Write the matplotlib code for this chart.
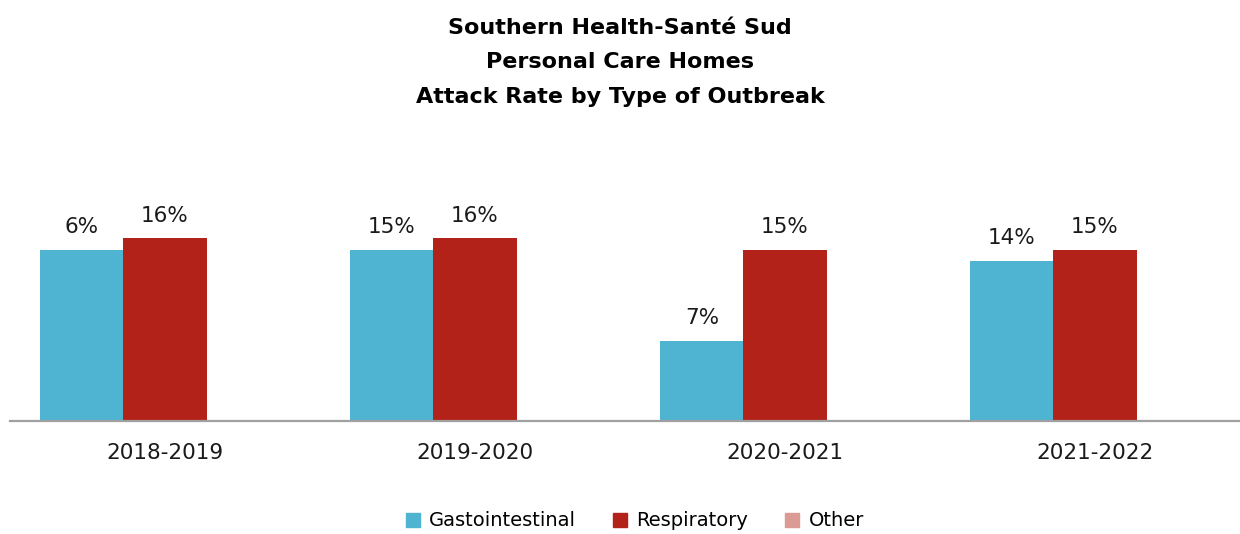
import matplotlib
matplotlib.use("Agg")
import matplotlib.pyplot as plt
import numpy as np
from matplotlib.patches import Patch

categories = ["2018-2019", "2019-2020", "2020-2021", "2021-2022"]
series_names = ["Gastointestinal", "Respiratory", "Other"]
gastro = [15, 15, 7, 14]
gastro_labels = ["6%", "15%", "7%", "14%"]
resp = [16, 16, 15, 15]
resp_labels = ["16%", "16%", "15%", "15%"]
other = [0, 0, 0, 0]
colors = ["#4FB3D2", "#B32218", "#DB9A93"]

plt.rcParams['font.family'] = ['DejaVu Sans']

W, H = 1240, 534
fig = plt.figure(figsize=(W/100, H/100), dpi=100)
px_per = 11.43
ax_h = 231
ax = fig.add_axes([10/W, 113/H, 1230/W, ax_h/H])
ax.set_ylim(0, ax_h/px_per)
ax.set_xlim(-0.5, -0.5 + 1230/310)

x = np.arange(len(categories))
bw = 0.268
b1 = ax.bar(x - bw, gastro, bw, color=colors[0])
b2 = ax.bar(x, resp, bw, color=colors[1])
b3 = ax.bar(x + bw, other, bw, color=colors[2])

for bars, labs in ((b1, gastro_labels), (b2, resp_labels)):
    for b, l in zip(bars, labs):
        ax.annotate(l, (b.get_x() + b.get_width()/2, b.get_height()),
                    xytext=(0, 9), textcoords="offset points",
                    ha="center", va="bottom", fontsize=15.5, color="#1a1a1a")

ax.set_xticks(x)
ax.set_xticklabels(categories, fontsize=15.5, color="#1a1a1a")
ax.tick_params(axis='x', length=0, pad=16)
ax.set_yticks([])
for s in ["top", "right", "left"]:
    ax.spines[s].set_visible(False)
ax.spines["bottom"].set_color("#A0A0A0")
ax.spines["bottom"].set_linewidth(1.6)

for yy, t in ((28, "Southern Health-Santé Sud"), (62, "Personal Care Homes"),
              (97, "Attack Rate by Type of Outbreak")):
    fig.text(0.5, 1 - yy/H, t, ha="center", va="center",
             fontsize=16, fontweight="bold")

handles = [Patch(color=c, label=n) for c, n in zip(colors, series_names)]
fig.legend(handles=handles, loc="center", bbox_to_anchor=(635/W, 1 - 521/H),
           ncol=3, frameon=False, fontsize=14, handlelength=0.7, handleheight=0.7,
           handletextpad=0.5, columnspacing=1.9)

fig.savefig("out.png", dpi=100)
